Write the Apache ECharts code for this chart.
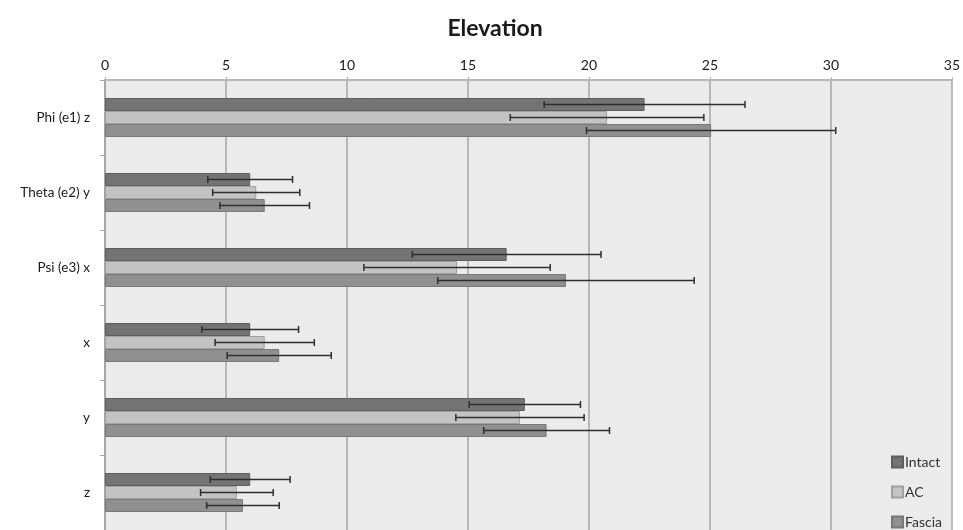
<!DOCTYPE html>
<html>
<head>
<meta charset="utf-8">
<script src="https://cdn.jsdelivr.net/npm/echarts@6/dist/echarts.min.js"></script>
<style>html,body{margin:0;padding:0;background:#fff}#c{width:963px;height:530px}</style>
</head>
<body>
<div id="c"></div>
<script>
var categories = ['Phi (e1) z', 'Theta (e2) y', 'Psi (e3) x', 'x', 'y', 'z'];
var seriesNames = ['Intact', 'AC', 'Fascia'];
var intact = [22.3, 6.0, 16.6, 6.0, 17.35, 6.0];
var intactErr = [4.15, 1.75, 3.9, 2.0, 2.3, 1.65];
var ac = [20.75, 6.25, 14.55, 6.6, 17.15, 5.45];
var acErr = [4.0, 1.8, 3.85, 2.05, 2.65, 1.5];
var fascia = [25.05, 6.6, 19.05, 7.2, 18.25, 5.7];
var fasciaErr = [5.15, 1.85, 5.3, 2.15, 2.6, 1.5];
var xTicks = [0, 5, 10, 15, 20, 25, 30, 35];

var FONT = 'Lato, "Open Sans", sans-serif';
var BAR_W = 13;
var fills = ['#747474', '#c3c3c3', '#909090'];
var borders = ['#5e5e5e', '#a0a0a0', '#787878'];
var values = [intact, ac, fascia];
var errs = [intactErr, acErr, fasciaErr];

function errSeries(idx) {
  var data = values[idx].map(function (v, i) { return [v, i, errs[idx][i]]; });
  return {
    type: 'custom',
    name: seriesNames[idx] + ' err',
    z: 5,
    silent: true,
    data: data,
    encode: { x: 0, y: 1 },
    renderItem: function (params, api) {
      var v = api.value(0), c = api.value(1), e = api.value(2);
      var off = (idx - 1) * BAR_W;
      var p1 = api.coord([v - e, c]);
      var p2 = api.coord([v + e, c]);
      var y = p1[1] + off;
      var h = 3.5;
      var st = { stroke: '#2e2e2e', lineWidth: 1.5 };
      return {
        type: 'group',
        children: [
          { type: 'line', shape: { x1: p1[0], y1: y, x2: p2[0], y2: y }, style: st },
          { type: 'line', shape: { x1: p1[0], y1: y - h, x2: p1[0], y2: y + h }, style: st },
          { type: 'line', shape: { x1: p2[0], y1: y - h, x2: p2[0], y2: y + h }, style: st }
        ]
      };
    }
  };
}

var series = [];
for (var k = 0; k < 3; k++) {
  series.push({
    type: 'bar',
    name: seriesNames[k],
    data: values[k],
    barWidth: BAR_W,
    barGap: '0%',
    itemStyle: { color: fills[k], borderColor: borders[k], borderWidth: 1 }
  });
}
for (var k2 = 0; k2 < 3; k2++) series.push(errSeries(k2));

var chart = echarts.init(document.getElementById('c'), null, { renderer: 'canvas' });
chart.setOption({
  animation: false,
  backgroundColor: '#ffffff',
  title: {
    text: 'Elevation',
    left: 490, top: 12, textAlign: 'center',
    textStyle: { fontFamily: FONT, fontWeight: 'bold', fontSize: 23, color: '#1a1a1a' }
  },
  legend: {
    data: seriesNames,
    orient: 'vertical',
    left: 891, top: 455, height: 120, width: 80,
    padding: 0,
    itemWidth: 11, itemHeight: 11, itemGap: 16,
    icon: 'rect',
    textStyle: { fontFamily: FONT, fontSize: 14, color: '#333', padding: [0, 0, 0, -3] }
  },
  grid: {
    left: 105, right: 9, top: 80, height: 456,
    show: true, backgroundColor: '#ebebeb', borderWidth: 0
  },
  xAxis: {
    type: 'value',
    position: 'top',
    min: xTicks[0], max: xTicks[xTicks.length - 1], interval: 5,
    axisLine: { show: true, lineStyle: { color: '#b8b8b8', width: 2 } },
    axisTick: { show: true, length: 3, lineStyle: { color: '#b0b0b0' } },
    axisLabel: { fontFamily: FONT, fontSize: 14, color: '#1a1a1a', margin: 8 },
    splitLine: { show: true, lineStyle: { color: '#a6a6a6', width: 1.5 } }
  },
  yAxis: {
    type: 'category',
    data: categories,
    inverse: true,
    axisLine: { show: true, lineStyle: { color: '#a6a6a6', width: 2 } },
    axisTick: { show: true, length: 5, lineStyle: { color: '#a6a6a6' } },
    axisLabel: { fontFamily: FONT, fontSize: 13.5, color: '#1a1a1a', margin: 15 },
    splitLine: { show: false }
  },
  series: series
});
</script>
</body>
</html>
